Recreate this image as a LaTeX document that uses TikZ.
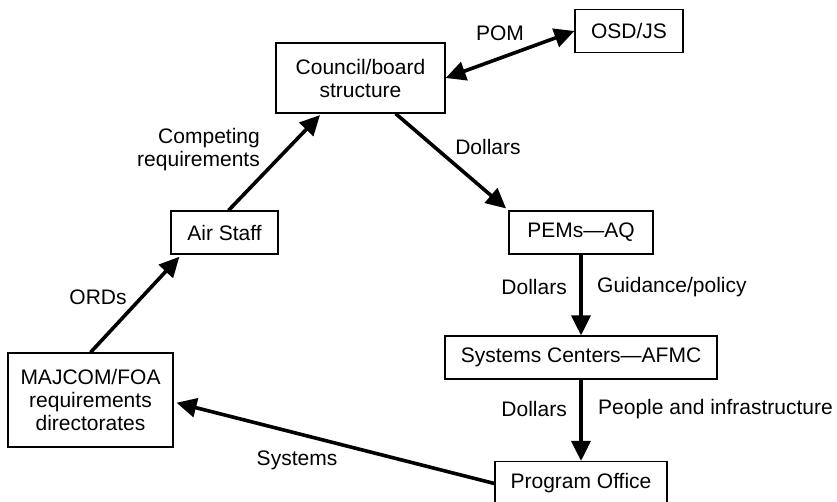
\documentclass[tikz,border=0pt]{standalone}
\usepackage{fontspec}
\setmainfont{Liberation Sans}
\usetikzlibrary{arrows.meta}

\begin{document}
\begin{tikzpicture}[x=1pt,y=-1pt,>={Triangle[length=20pt,width=19pt]},node distance=125pt,
    box/.style={draw,line width=1.2pt,inner xsep=0pt,inner ysep=0pt,minimum height=43pt,align=center,font=\fontsize{21}{23}\selectfont},
    lbl/.style={inner sep=0pt,font=\fontsize{21}{23}\selectfont},
    flow/.style={->,line width=3.6pt}]

                \useasboundingbox (0,0) rectangle (837,501);

                \node[box, minimum width=169pt, minimum height=70pt] (council) at (360.5,78) {Council/board\\structure};
                \node[box, minimum width=108pt] (osd) at (629,31) {OSD/JS};
                \node[box, minimum width=107pt] (air) at (224.5,232.5) {Air Staff};
                \node[box, minimum width=165pt, minimum height=94pt] (majcom) at (90.5,400) {MAJCOM/FOA\\requirements\\directorates};
                \node[box, minimum width=144pt] (pems) at (581,232.5) {PEMs---AQ};
                \node[box, minimum width=272pt] (sc) [below of = pems] {Systems Centers---AFMC};
                \node[box, minimum width=172pt, minimum height=44pt, yshift=-1pt] (po) [below of = sc] {Program Office};

                \node[lbl] (pom) at (500,33) {POM};
                \node[lbl] (dol1) at (488,147) {Dollars};
                \node[lbl, align=right, anchor=east] (comp) at (260,150) {Competing\\requirements};
                \node[lbl] (ords) at (98,297) {ORDs};
                \node[lbl, anchor=east] (dol2) at (567,287) {Dollars};
                \node[lbl, anchor=west] (guid) at (597,287) {Guidance/policy};
                \node[lbl, anchor=east] (dol3) at (567,409) {Dollars};
                \node[lbl, anchor=west] (people) at (598,409) {People and infrastructure};
                \node[lbl] (sys) at (297,460) {Systems};

                \draw[flow, <->] (council.east) to (osd.west);
                \draw[flow, shorten >=3pt] ([xshift=-50pt]council.south east) to (pems.north west);
                \draw[flow, shorten >=2pt] ([xshift=4pt]air.north) to ([xshift=46pt]council.south west);
                \draw[flow, shorten >=3pt] (majcom.north) to ([xshift=11pt]air.south west);
                \draw[flow] (pems.south) to (sc.north);
                \draw[flow] (sc.south) to (po.north);
                \draw[flow, shorten >=3pt] (po.west) to ([yshift=-2pt]majcom.east);

                ;
            \end{tikzpicture}
\end{document}
